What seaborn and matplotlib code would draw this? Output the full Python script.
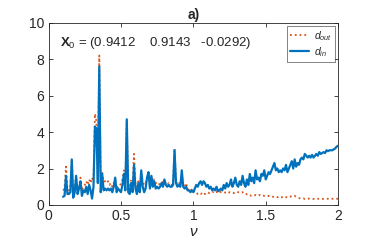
import numpy as np
import pandas as pd
import seaborn as sns
import matplotlib
matplotlib.use("Agg")
import matplotlib.pyplot as plt

# frequency grid (step 0.01 from 0.10 to 2.00)
nu = np.round(np.arange(0.10, 2.001, 0.01), 2)

d_in = [
    0.45, 0.5, 1.6, 0.6, 0.6, 0.7, 2.5, 0.4, 0.7, 1.6,
    0.6, 0.9, 1.3, 0.5, 0.8, 0.7, 1.0, 0.6, 1.1, 0.8,
    0.35, 1.0, 4.3, 4.2, 1.2, 7.6, 0.7, 1.7, 0.8, 0.9,
    0.8, 0.9, 0.8, 0.9, 0.7, 1.0, 1.5, 0.7, 0.9, 0.8,
    0.7, 1.1, 1.7, 0.8, 4.7, 0.7, 0.6, 1.2, 0.7, 2.2,
    0.9, 0.6, 1.2, 0.7, 1.9, 1.0, 0.7, 0.9, 1.5, 1.8,
    0.9, 1.6, 1.0, 1.3, 0.9, 1.0, 0.9, 1.0, 1.2, 1.0,
    1.4, 1.1, 1.0, 1.1, 1.0, 1.0, 1.1, 3.0, 1.2, 1.0,
    1.1, 1.0, 1.9, 1.0, 0.9, 1.0, 0.8, 0.8, 0.7, 0.8,
    0.7, 0.9, 1.1, 1.0, 1.2, 1.3, 1.1, 1.3, 1.2, 1.0,
    1.1, 0.9, 1.0, 0.8, 0.9, 0.8, 1.0, 0.75, 0.8, 0.9,
    0.8, 1.1, 0.9, 1.2, 1.0, 1.1, 1.4, 1.0, 1.2, 1.5,
    1.1, 1.0, 1.3, 1.1, 1.6, 1.2, 1.0, 1.4, 1.1, 1.7,
    1.3, 1.5, 1.2, 1.9, 1.4, 1.5, 1.3, 1.7, 1.6, 1.9,
    1.4, 1.6, 1.8, 1.7, 1.9, 2.1, 2.3, 1.9, 2.0, 1.8,
    1.9, 1.8, 2.0, 1.9, 2.2, 1.8, 2.0, 2.2, 2.4, 2.0,
    2.5, 2.1, 2.3, 2.2, 2.5, 2.6, 2.5, 2.8, 2.7, 2.6,
    2.7, 2.6, 2.75, 2.6, 2.7, 2.8, 2.7, 2.9, 2.8, 2.85,
    2.9, 2.85, 3.0, 2.95, 3.0, 3.0, 3.0, 3.05, 3.1, 3.2,
    3.25,
]

d_out = [
    0.8, 0.9, 2.1, 0.9, 0.8, 0.9, 2.5, 0.7, 0.9, 1.5,
    0.8, 1.0, 1.5, 0.8, 1.0, 1.1, 1.3, 1.1, 1.4, 1.2,
    1.5, 1.3, 5.0, 4.6, 1.6, 8.2, 1.2, 1.8, 1.3, 1.3,
    1.2, 1.3, 1.1, 1.2, 1.0, 1.2, 1.4, 0.9, 1.0, 1.0,
    1.2, 1.4, 1.9, 1.2, 4.6, 1.0, 1.0, 1.4, 1.1, 2.8,
    1.2, 1.0, 1.3, 1.0, 1.7, 1.3, 1.1, 1.2, 1.4, 1.7,
    1.2, 1.5, 1.3, 1.4, 1.2, 1.2, 1.1, 1.2, 1.3, 1.2,
    1.3, 1.2, 1.1, 1.2, 1.1, 1.1, 1.2, 3.1, 1.3, 1.1,
    1.2, 1.1, 1.6, 1.1, 1.0, 1.2, 0.9, 0.8, 0.9, 0.8,
    0.7, 0.8, 0.7, 0.6, 0.65, 0.6, 0.65, 0.7, 0.6, 0.65,
    0.7, 0.65, 0.7, 0.75, 0.7, 0.75, 0.7, 0.8, 0.75, 0.7,
    0.72, 0.7, 0.68, 0.7, 0.65, 0.7, 0.68, 0.7, 0.65, 0.7,
    0.72, 0.7, 0.66, 0.68, 0.7, 0.62, 0.64, 0.58, 0.6, 0.55,
    0.5, 0.52, 0.5, 0.55, 0.5, 0.52, 0.55, 0.5, 0.52, 0.5,
    0.5, 0.48, 0.5, 0.45, 0.47, 0.45, 0.44, 0.46, 0.42, 0.45,
    0.4, 0.42, 0.45, 0.4, 0.42, 0.45, 0.42, 0.45, 0.5, 0.48,
    0.5, 0.45, 0.42, 0.38, 0.35, 0.35, 0.36, 0.33, 0.35, 0.34,
    0.35, 0.34, 0.35, 0.33, 0.34, 0.35, 0.34, 0.34, 0.35, 0.33,
    0.34, 0.35, 0.34, 0.34, 0.33, 0.35, 0.34, 0.34, 0.35, 0.34,
    0.34,
]

df = pd.DataFrame({"nu": nu, "d_out": d_out, "d_in": d_in})

sns.set_theme(style="ticks")
plt.rcParams["font.family"] = ["Liberation Sans", "DejaVu Sans"]
plt.rcParams["mathtext.fontset"] = "custom"
plt.rcParams["mathtext.rm"] = "Liberation Sans"
plt.rcParams["mathtext.it"] = "Liberation Sans:italic"
plt.rcParams["mathtext.bf"] = "Liberation Sans:bold"

fig = plt.figure(figsize=(3.74, 2.44), dpi=100)
ax = fig.add_axes([0.130, 0.160, 0.774, 0.747])

sns.lineplot(data=df, x="nu", y="d_out", ax=ax, color="#D95319",
             linestyle=":", linewidth=1.3, label=r"$d_{out}$")
sns.lineplot(data=df, x="nu", y="d_in", ax=ax, color="#0072BD",
             linewidth=1.6, label=r"$d_{in}$")

ax.set_xlim(0, 2)
ax.set_ylim(0, 10)
ax.set_xticks([0, 0.5, 1, 1.5, 2])
ax.set_xticklabels(["0", "0.5", "1", "1.5", "2"])
ax.set_yticks([0, 2, 4, 6, 8, 10])
for s in ax.spines.values():
    s.set_visible(True)
    s.set_color("#262626")
    s.set_linewidth(0.6)
ax.tick_params(direction="in", length=3, width=0.6, top=True, right=True,
               labelsize=10, colors="#262626", pad=3)
ax.set_xlabel(r"$\nu$", fontsize=11, family="DejaVu Serif", labelpad=1)
ax.set_ylabel("")
ax.set_title("a)", fontsize=10, fontweight="bold", pad=3)

ax.text(0.04, 0.93, r"$\mathbf{X}_0$ = (0.9412    0.9143   -0.0292)",
        transform=ax.transAxes, fontsize=9.5, va="top", ha="left")

leg = ax.legend(loc="upper right", fontsize=7.5, handlelength=1.8,
                frameon=True, fancybox=False, borderpad=0.3,
                labelspacing=0.2, handletextpad=0.5, borderaxespad=0.3)
leg.get_frame().set_edgecolor("#262626")
leg.get_frame().set_linewidth(0.5)

fig.savefig("out.png", dpi=100)
